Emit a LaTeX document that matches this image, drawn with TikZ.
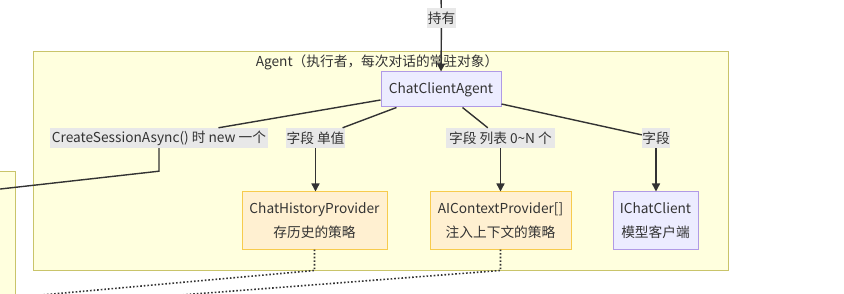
\documentclass[tikz,border=0pt]{standalone}
\usepackage{fontspec}
\setmainfont{Noto Sans CJK SC}
\usetikzlibrary{arrows.meta}
\definecolor{clfill}{HTML}{FFFFDE}
\definecolor{cldraw}{HTML}{C9C46A}
\definecolor{pfill}{HTML}{ECECFF}
\definecolor{pdraw}{HTML}{B09AE6}
\definecolor{yfill}{HTML}{FFF0D1}
\definecolor{ydraw}{HTML}{F7CB4D}
\definecolor{lblbg}{HTML}{E8E8E8}
\definecolor{ink}{HTML}{333333}
\tikzset{
  cluster/.style={fill=clfill,draw=cldraw,line width=0.9pt},
  purplebox/.style={fill=pfill,draw=pdraw,line width=1pt,inner sep=0pt,text=ink,align=center,font=\fontsize{13.7}{24}\selectfont},
  yellowbox/.style={fill=yfill,draw=ydraw,line width=1pt,inner sep=0pt,text=ink,align=center,font=\fontsize{13.7}{24}\selectfont},
  lbl/.style={fill=lblbg,inner sep=0pt,minimum height=20pt,text=ink,font=\fontsize{13.7}{15}\selectfont},
  edge/.style={draw=ink,line width=1.4pt},
  arr/.style={edge,-{Triangle[length=8pt,width=8pt]}},
  dotline/.style={draw=ink,line width=1.6pt,dash pattern=on 1.6pt off 2pt},
}
\begin{document}
\begin{tikzpicture}[x=1pt,y=-1pt]
\useasboundingbox (0,0) rectangle (844,294);
% clusters
\draw[cluster] (33,51) rectangle (728,270);
\draw[cluster] (-10,171) rectangle (15,320);
\node[text=ink,font=\fontsize{13.7}{15}\selectfont,inner sep=0pt] (title) at (377,62) {Agent（执行者，每次对话的常驻对象）};
% nodes
\node[purplebox,minimum width=120pt,minimum height=35pt] (cca) at (441,89.5) {ChatClientAgent};
\node[yellowbox,minimum width=145pt,minimum height=57pt] (chp) at (314.5,220.5) {ChatHistoryProvider\\存历史的策略};
\node[yellowbox,minimum width=141pt,minimum height=57pt] (acp) at (500.5,220.5) {AIContextProvider[]\\注入上下文的策略};
\node[purplebox,minimum width=85pt,minimum height=57pt] (icc) at (655.5,220.5) {IChatClient\\模型客户端};
% labels
\node[lbl,minimum width=29pt] (l0) at (441.5,18) {持有};
\node[lbl,minimum width=218pt] (l1) at (159,138) {CreateSessionAsync() 时 new 一个};
\node[lbl,minimum width=59pt] (l2) at (315.5,138) {字段 单值};
\node[lbl,minimum width=109pt] (l3) at (500.5,138) {字段 列表 0\textasciitilde N 个};
\node[lbl,minimum width=28pt] (l4) at (656,138) {字段};
% free ends
\coordinate (top) at (441,-5);
\coordinate (c1) at (-5,189.6);
\coordinate (d1) at (8,298);
\coordinate (d2) at (142,298);
% edges
\draw[edge] (top) -- (l0);
\draw[arr] (l0) -- (cca.north);
\draw[edge] ([yshift=-10.5pt]cca.west) -- (l1);
\draw[edge] (l1.south) -- ++(0,23) -- (c1);
\draw[edge] ([xshift=16pt]cca.south west) -- (l2);
\draw[arr] (l2.south) -- (chp.north -| l2.south);
\draw[edge] ([xshift=-39pt]cca.south east) -- (l3);
\draw[arr] (l3.south) -- (acp.north -| l3.south);
\draw[edge] ([yshift=-14.5pt]cca.east) -- (l4);
\draw[arr] (l4.south) -- (icc.north -| l4.south);
\draw[dotline] (chp.south) -- ++(0,21) -- (d1);
\draw[dotline] (acp.south) -- ++(0,21) -- (d2);
\end{tikzpicture}
\end{document}
